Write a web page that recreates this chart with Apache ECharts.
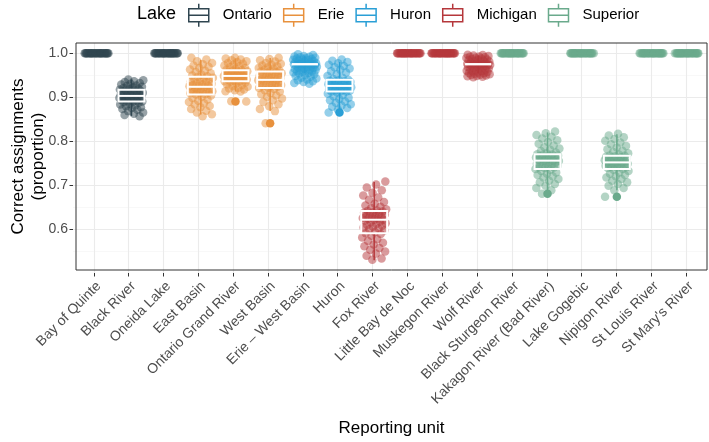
<!DOCTYPE html>
<html>
<head>
<meta charset="utf-8">
<script src="https://cdn.jsdelivr.net/npm/echarts@6/dist/echarts.min.js"></script>
<style>
  html, body { margin: 0; padding: 0; background: #fff; }
  #chart { width: 709px; height: 442px; }
</style>
</head>
<body>
<div id="chart"></div>
<script>
// 报告单元与所属湖泊
const units = ['Bay of Quinte', 'Black River', 'Oneida Lake', 'East Basin', 'Ontario Grand River',
  'West Basin', 'Erie – West Basin', 'Huron', 'Fox River', 'Little Bay de Noc', 'Muskegon River',
  'Wolf River', 'Black Sturgeon River', 'Kakagon River (Bad River)', 'Lake Gogebic', 'Nipigon River',
  'St Louis River', "St Mary's River"];
const lakes = ['Ontario', 'Erie', 'Huron', 'Michigan', 'Superior'];
const unitLake = [0, 0, 0, 1, 1, 1, 2, 2, 3, 3, 3, 3, 4, 4, 4, 4, 4, 4];
const lakeColors = ['#2F4550', '#E8913D', '#2A9FD6', '#B5373B', '#6AAA8C'];

// 每个单元的正确率（抖动点）
const allCorrect = [1, 1, 1, 1, 1, 1, 1, 1, 1, 1, 1, 1, 1, 1, 1, 1, 1, 1, 1, 1, 1, 1, 1, 1, 1, 1, 1, 1, 1, 1];
const blackRiver = [0.94, 0.938, 0.936, 0.934, 0.932, 0.93, 0.928, 0.926, 0.925, 0.923, 0.922, 0.92, 0.919, 0.918, 0.917,
  0.916, 0.915, 0.914, 0.913, 0.912, 0.911, 0.91, 0.909, 0.908, 0.907, 0.906, 0.905, 0.904, 0.903, 0.902,
  0.902, 0.901, 0.9, 0.899, 0.898, 0.897, 0.896, 0.895, 0.894, 0.893, 0.892, 0.891, 0.89, 0.889, 0.889,
  0.888, 0.886, 0.884, 0.882, 0.88, 0.878, 0.876, 0.874, 0.872, 0.87, 0.867, 0.864, 0.861, 0.858, 0.855];
const eastBasin = [0.99, 0.986, 0.982, 0.978, 0.975, 0.972, 0.969, 0.966, 0.963, 0.96, 0.957, 0.954, 0.951, 0.949, 0.947,
  0.946, 0.944, 0.942, 0.94, 0.939, 0.937, 0.935, 0.934, 0.932, 0.93, 0.929, 0.927, 0.926, 0.925, 0.924,
  0.923, 0.921, 0.92, 0.918, 0.917, 0.916, 0.915, 0.913, 0.912, 0.911, 0.91, 0.909, 0.908, 0.906, 0.905,
  0.903, 0.9, 0.897, 0.894, 0.891, 0.888, 0.885, 0.882, 0.879, 0.876, 0.872, 0.868, 0.864, 0.86, 0.855];
const ontarioGrand = [0.99, 0.988, 0.986, 0.984, 0.982, 0.98, 0.978, 0.976, 0.974, 0.972, 0.97, 0.968, 0.966, 0.964, 0.962,
  0.961, 0.96, 0.959, 0.958, 0.957, 0.956, 0.955, 0.954, 0.953, 0.952, 0.951, 0.95, 0.95, 0.949, 0.948,
  0.948, 0.947, 0.946, 0.945, 0.944, 0.943, 0.942, 0.941, 0.94, 0.94, 0.939, 0.938, 0.937, 0.936, 0.936,
  0.935, 0.933, 0.931, 0.929, 0.927, 0.925, 0.923, 0.921, 0.919, 0.917, 0.915, 0.913, 0.912, 0.89, 0.889];
const westBasin = [0.99, 0.987, 0.984, 0.981, 0.978, 0.976, 0.974, 0.972, 0.97, 0.968, 0.966, 0.964, 0.962, 0.96, 0.959,
  0.958, 0.957, 0.955, 0.954, 0.952, 0.951, 0.95, 0.948, 0.947, 0.946, 0.944, 0.943, 0.942, 0.94, 0.939,
  0.939, 0.938, 0.936, 0.935, 0.934, 0.932, 0.931, 0.93, 0.928, 0.927, 0.926, 0.924, 0.923, 0.921, 0.92,
  0.918, 0.915, 0.912, 0.909, 0.906, 0.903, 0.9, 0.896, 0.892, 0.888, 0.883, 0.878, 0.872, 0.867, 0.839];
const erieWestBasin = [0.998, 0.996, 0.994, 0.993, 0.992, 0.991, 0.99, 0.989, 0.988, 0.987, 0.986, 0.985, 0.984, 0.983,
  0.982, 0.981, 0.98, 0.979, 0.978, 0.977, 0.976, 0.975, 0.975, 0.975, 0.975, 0.975, 0.975, 0.974, 0.973,
  0.972, 0.971, 0.97, 0.969, 0.968, 0.967, 0.966, 0.965, 0.964, 0.963, 0.962, 0.961, 0.96, 0.959, 0.958,
  0.957, 0.956, 0.955, 0.954, 0.952, 0.95, 0.948, 0.946, 0.944, 0.942, 0.94, 0.938, 0.936, 0.934, 0.932, 0.93];
const huron = [0.986, 0.983, 0.98, 0.977, 0.974, 0.971, 0.968, 0.965, 0.962, 0.959, 0.956, 0.952, 0.948, 0.944, 0.941,
  0.939, 0.938, 0.937, 0.936, 0.935, 0.934, 0.933, 0.932, 0.931, 0.93, 0.929, 0.928, 0.927, 0.926, 0.925,
  0.925, 0.924, 0.923, 0.922, 0.921, 0.92, 0.919, 0.918, 0.917, 0.916, 0.915, 0.914, 0.913, 0.912, 0.912,
  0.91, 0.907, 0.904, 0.901, 0.898, 0.895, 0.892, 0.889, 0.886, 0.883, 0.88, 0.877, 0.874, 0.87, 0.864];
const foxRiver = [0.705, 0.698, 0.691, 0.685, 0.679, 0.673, 0.668, 0.663, 0.658, 0.654, 0.65, 0.647, 0.644, 0.641, 0.638,
  0.637, 0.636, 0.634, 0.633, 0.631, 0.63, 0.629, 0.627, 0.626, 0.624, 0.623, 0.621, 0.62, 0.619, 0.617,
  0.617, 0.615, 0.613, 0.611, 0.609, 0.607, 0.605, 0.603, 0.601, 0.599, 0.597, 0.595, 0.592, 0.589, 0.586,
  0.584, 0.58, 0.576, 0.572, 0.568, 0.564, 0.56, 0.556, 0.552, 0.548, 0.544, 0.539, 0.534, 0.528, 0.525];
const wolfRiver = [0.997, 0.996, 0.995, 0.994, 0.993, 0.992, 0.991, 0.99, 0.989, 0.988, 0.987, 0.986, 0.985, 0.984,
  0.983, 0.982, 0.981, 0.98, 0.979, 0.978, 0.977, 0.976, 0.975, 0.975, 0.975, 0.975, 0.975, 0.975, 0.974,
  0.973, 0.972, 0.971, 0.97, 0.969, 0.968, 0.967, 0.966, 0.965, 0.964, 0.963, 0.962, 0.961, 0.96, 0.959,
  0.958, 0.957, 0.956, 0.955, 0.954, 0.953, 0.952, 0.951, 0.95, 0.949, 0.948, 0.947, 0.946, 0.945];
const kakagon = [0.82, 0.816, 0.812, 0.808, 0.804, 0.8, 0.796, 0.792, 0.788, 0.784, 0.781, 0.778, 0.775, 0.772, 0.77,
  0.768, 0.767, 0.766, 0.765, 0.764, 0.763, 0.762, 0.761, 0.76, 0.759, 0.758, 0.757, 0.756, 0.755, 0.753,
  0.753, 0.752, 0.75, 0.749, 0.748, 0.746, 0.745, 0.744, 0.742, 0.741, 0.74, 0.738, 0.737, 0.736, 0.734,
  0.732, 0.729, 0.726, 0.723, 0.72, 0.717, 0.714, 0.711, 0.707, 0.703, 0.699, 0.695, 0.69, 0.685, 0.677];
const nipigon = [0.815, 0.811, 0.807, 0.803, 0.799, 0.795, 0.791, 0.787, 0.783, 0.779, 0.776, 0.773, 0.77, 0.767, 0.765,
  0.764, 0.763, 0.762, 0.761, 0.76, 0.759, 0.758, 0.757, 0.756, 0.755, 0.754, 0.753, 0.752, 0.751, 0.749,
  0.749, 0.748, 0.747, 0.746, 0.745, 0.744, 0.743, 0.742, 0.741, 0.74, 0.739, 0.738, 0.737, 0.736, 0.734,
  0.732, 0.729, 0.726, 0.723, 0.72, 0.717, 0.714, 0.711, 0.707, 0.703, 0.699, 0.695, 0.69, 0.685, 0.67];
const unitPoints = [allCorrect, blackRiver, allCorrect, eastBasin, ontarioGrand, westBasin, erieWestBasin,
  huron, foxRiver, allCorrect, allCorrect, wolfRiver, allCorrect, kakagon, allCorrect, nipigon,
  allCorrect, allCorrect];

// 箱线图统计量
const whiskerLo = [1, 0.856, 1, 0.859, 0.912, 0.867, 0.955, 0.870, 0.524, 1, 1, 0.955, 1, 0.685, 1, 0.685, 1, 1];
const boxQ1 = [1, 0.889, 1, 0.905, 0.936, 0.920, 0.975, 0.912, 0.586, 1, 1, 0.975, 1, 0.734, 1, 0.734, 1, 1];
const boxMedian = [1, 0.902, 1, 0.923, 0.948, 0.939, 0.975, 0.925, 0.617, 1, 1, 0.975, 1, 0.753, 1, 0.749, 1, 1];
const boxQ3 = [1, 0.916, 1, 0.946, 0.961, 0.958, 0.975, 0.939, 0.637, 1, 1, 0.975, 1, 0.768, 1, 0.764, 1, 1];
const whiskerHi = [1, 0.940, 1, 0.985, 0.988, 0.989, 0.995, 0.980, 0.704, 1, 1, 0.995, 1, 0.818, 1, 0.814, 1, 1];
const outlierUnit = [4, 5, 7, 13, 15];
const outlierValue = [0.889, 0.839, 0.864, 0.677, 0.670];

const yTicks = [0.6, 0.7, 0.8, 0.9, 1.0];

const FONT = 'Liberation Sans, Arial, sans-serif';
const panel = { left: 73, right: 707, top: 43, bottom: 273 };
const yMin = 0.5013, yMax = 1.0238;
const xMin = -0.6, xMax = units.length - 1 + 0.6;
const W = 709, H = 442;
const unitPx = (panel.right - panel.left) / (xMax - xMin);
const pxPerY = (panel.bottom - panel.top) / (yMax - yMin);
const BOX_ICON = 'path://M11,0L11,5M1,5L21,5L21,18L1,18ZM1,11.5L21,11.5M11,18L11,23';

// 抖动（仅水平方向）
function jitter(u, i) {
  return (((i * 0.6180339887 + u * 0.37) % 1) - 0.5) * 0.7;
}

const pointSeries = lakes.map((lake, li) => {
  const data = [];
  units.forEach((_, u) => {
    if (unitLake[u] !== li) return;
    unitPoints[u].forEach((v, i) => data.push([u + jitter(u, i), v]));
  });
  return {
    name: lake,
    type: 'scatter',
    xAxisIndex: 0, yAxisIndex: 0,
    symbolSize: 8.5,
    itemStyle: { color: lakeColors[li], opacity: 0.5 },
    data: data,
    z: 2
  };
});

const chart = echarts.init(document.getElementById('chart'), null, { renderer: 'canvas' });

chart.setOption({
  animation: false,
  textStyle: { fontFamily: FONT },
  graphic: [{
    type: 'text', left: 137, top: 5,
    style: { text: 'Lake', fontSize: 18, fill: '#000', fontFamily: FONT }
  }],
  legend: {
    data: lakes.map((l, i) => ({
      name: l,
      icon: BOX_ICON,
      itemStyle: { color: 'rgba(255,255,255,0)', borderColor: lakeColors[i], borderWidth: 1.5, opacity: 1 }
    })),
    left: 188, top: 3, padding: 0,
    itemWidth: 22, itemHeight: 23, itemGap: 11,
    selectedMode: false,
    textStyle: { fontSize: 15, color: '#000', fontFamily: FONT, padding: [0, 0, 0, 8] }
  },
  grid: [
    // 面板边框 + 数据
    { left: panel.left, right: W - panel.right, top: panel.top, bottom: H - panel.bottom,
      show: true, borderColor: '#333333', borderWidth: 1, backgroundColor: 'transparent', z: 10 },
    // 水平网格线
    { left: panel.left, right: W - panel.right,
      top: panel.top + (yMax - 1.0) * pxPerY, bottom: H - (panel.top + (yMax - 0.5) * pxPerY) },
    // 分类轴
    { left: panel.left + 0.6 * unitPx, right: W - panel.right + 0.6 * unitPx,
      top: panel.top, bottom: H - panel.bottom }
  ],
  xAxis: [
    { gridIndex: 0, type: 'value', min: xMin, max: xMax,
      axisLine: { show: false }, axisTick: { show: false }, axisLabel: { show: false },
      splitLine: { show: false },
      name: 'Reporting unit', nameLocation: 'middle', nameGap: 150,
      nameTextStyle: { fontSize: 17, color: '#000', fontFamily: FONT } },
    { gridIndex: 1, type: 'value', show: false, min: 0, max: 1 },
    { gridIndex: 2, type: 'category', data: units, boundaryGap: false,
      axisLine: { show: false },
      axisTick: { show: true, length: 3.5, lineStyle: { color: '#333333', width: 1 } },
      axisLabel: { interval: 0, rotate: 45, align: 'right', verticalAlign: 'top', margin: 6,
        fontSize: 14, color: '#4D4D4D', fontFamily: FONT },
      splitLine: { show: true, interval: 0, lineStyle: { color: '#EBEBEB', width: 1.1 } } }
  ],
  yAxis: [
    { gridIndex: 0, type: 'value', min: yMin, max: yMax,
      axisLine: { show: false }, axisTick: { show: false }, axisLabel: { show: false },
      splitLine: { show: false },
      name: 'Correct assignments\n(proportion)', nameLocation: 'middle', nameGap: 28,
      nameTextStyle: { fontSize: 17, color: '#000', lineHeight: 20, fontFamily: FONT } },
    { gridIndex: 1, type: 'value', min: 0.5, max: 1.0, interval: 0.1,
      axisLine: { show: false },
      axisTick: { show: true, length: 3.5, customValues: yTicks, lineStyle: { color: '#333333', width: 1 } },
      axisLabel: { customValues: yTicks, margin: 5, fontSize: 14, color: '#4D4D4D', fontFamily: FONT,
        formatter: v => v.toFixed(1) },
      splitLine: { show: true, lineStyle: { color: '#EBEBEB', width: 1.1 } },
      minorTick: { show: false, splitNumber: 2 },
      minorSplitLine: { show: true, lineStyle: { color: '#F3F3F3', width: 0.6 } } },
    { gridIndex: 2, type: 'value', show: false, min: 0, max: 1 }
  ],
  series: [
    ...pointSeries,
    {
      name: 'box',
      type: 'custom',
      xAxisIndex: 0, yAxisIndex: 0,
      z: 4,
      encode: { x: 0, y: [1, 2, 3, 4, 5] },
      data: units.map((_, u) => [u, whiskerLo[u], boxQ1[u], boxMedian[u], boxQ3[u], whiskerHi[u]]),
      renderItem: (params, api) => {
        const u = api.value(0);
        const lo = api.value(1), q1 = api.value(2), md = api.value(3), q3 = api.value(4), hi = api.value(5);
        if (lo === hi) return { type: 'group', children: [] };
        const col = lakeColors[unitLake[u]];
        const half = api.size([0.75, 0])[0] / 2;
        const pLo = api.coord([u, lo]), pQ1 = api.coord([u, q1]), pMd = api.coord([u, md]);
        const pQ3 = api.coord([u, q3]), pHi = api.coord([u, hi]);
        const cx = pMd[0];
        return {
          type: 'group',
          children: [
            { type: 'line', shape: { x1: cx, y1: pQ3[1], x2: cx, y2: pHi[1] },
              style: { stroke: col, lineWidth: 1.5 } },
            { type: 'line', shape: { x1: cx, y1: pLo[1], x2: cx, y2: pQ1[1] },
              style: { stroke: col, lineWidth: 1.5 } },
            { type: 'rect', shape: { x: cx - half, y: pQ3[1], width: half * 2, height: pQ1[1] - pQ3[1] },
              style: { fill: null, stroke: '#fff', lineWidth: 2 } },
            { type: 'line', shape: { x1: cx - half, y1: pMd[1], x2: cx + half, y2: pMd[1] },
              style: { stroke: '#fff', lineWidth: 2 } }
          ]
        };
      }
    },
    {
      name: 'outliers',
      type: 'scatter',
      xAxisIndex: 0, yAxisIndex: 0,
      z: 4,
      symbolSize: 8.5,
      data: outlierUnit.map((u, i) => ({
        value: [u, outlierValue[i]],
        itemStyle: { color: lakeColors[unitLake[u]], opacity: 1 }
      }))
    }
  ]
});
</script>
</body>
</html>
